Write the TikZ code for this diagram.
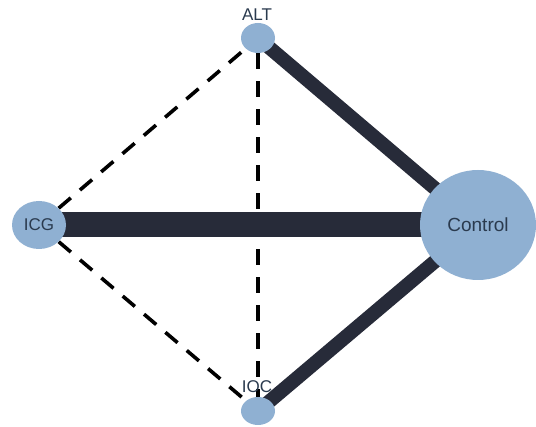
\documentclass[tikz,border=0pt]{standalone}
\usepackage{fontspec}
\setmainfont{Liberation Sans}
\usetikzlibrary{shapes.geometric,backgrounds}
\definecolor{nodefill}{HTML}{8FB0D2}
\definecolor{edgecol}{HTML}{272B39}
\definecolor{labelcol}{HTML}{2A3A4E}
\begin{document}
\begin{tikzpicture}[x=1pt,y=-1pt,
  treat/.style={ellipse, fill=nodefill, draw=none, inner sep=0pt, text=labelcol},
  lbl/.style={text=labelcol, font=\fontsize{17}{19}\selectfont},
  direct/.style={draw=edgecol, line cap=butt},
  indirect/.style={draw=black, line width=3.6pt, dash pattern=on 16pt off 12pt}]
\useasboundingbox (0,0) rectangle (536,427);
% network nodes
\node[treat, minimum width=34pt, minimum height=30pt] (alt) at (258,38) {};
\node[treat, minimum width=54pt, minimum height=48pt, font=\fontsize{17}{19}\selectfont] (icg) at (39,225) {ICG};
\node[treat, minimum width=116pt, minimum height=110pt, font=\fontsize{19}{21}\selectfont] (ctl) at (478,225) {Control};
\node[treat, minimum width=34pt, minimum height=28pt] (ioc) at (258,411) {};
\begin{scope}[on background layer]
\fill[white] (0,0) rectangle (536,427);
% comparisons without direct evidence
\draw[indirect] (icg) -- (alt);
\draw[indirect] (icg) -- (ioc);
\draw[indirect] (alt) -- (ioc);
% direct comparisons, width by number of studies
\draw[direct, line width=25pt] (icg.center) -- (ctl.center);
\draw[direct, line width=14pt] (alt.center) -- (ctl.center);
\draw[direct, line width=14pt] (ioc.center) -- (ctl.center);
\end{scope}
% labels of the small nodes
\node[lbl] (altlbl) at (257,15) {ALT};
\node[lbl] (ioclbl) at (257,387) {IOC};
\end{tikzpicture}
\end{document}
